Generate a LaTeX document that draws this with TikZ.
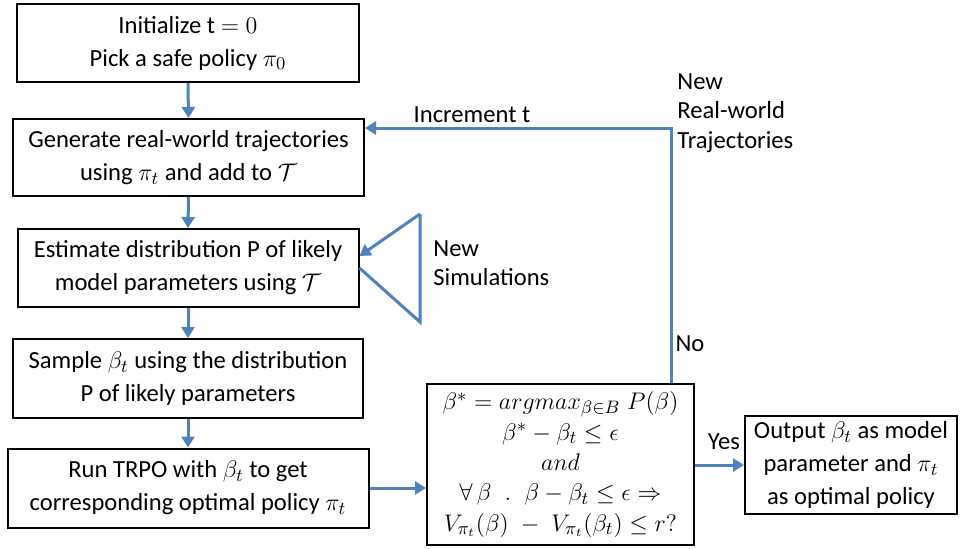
\documentclass[tikz,border=0pt]{standalone}
\usepackage{fontspec}
\setmainfont{Carlito}
\usetikzlibrary{arrows.meta}
\definecolor{flowblue}{RGB}{79,129,189}
\tikzset{
  stepbox/.style={draw=black, line width=1pt, align=center, inner sep=2pt,
    font=\fontsize{12.3}{16.5}\selectfont},
  flow/.style={draw=flowblue, line width=1.5pt, -{Triangle[length=5.5pt,width=6.5pt]}},
  plainflow/.style={draw=flowblue, line width=1.5pt},
  lbl/.style={font=\fontsize{12.3}{14.8}\selectfont, inner sep=0pt},
}
\begin{document}
\begin{tikzpicture}[x=0.5pt,y=-0.5pt]
\useasboundingbox (0,0) rectangle (960,548);

% left column of steps
\node[stepbox, minimum width=171pt, minimum height=39pt] (init) at (188,43)
  {Initialize t $=0$\\Pick a safe policy $\pi_0$};
\node[stepbox, minimum width=175.5pt, minimum height=38.5pt] (gen) at (188.5,157.5)
  {Generate real-world trajectories\\using $\pi_t$ and add to $\mathcal{T}$};
\node[stepbox, minimum width=170.5pt, minimum height=39pt] (est) at (188,268)
  {Estimate distribution P of likely\\model parameters using $\mathcal{T}$};
\node[stepbox, minimum width=175pt, minimum height=39.5pt] (samp) at (188,378.5)
  {Sample $\beta_t$ using the distribution\\P of likely parameters};
\node[stepbox, minimum width=180.5pt, minimum height=39.5pt] (trpo) at (188,488)
  {Run TRPO with $\beta_t$ to get\\corresponding optimal policy $\pi_t$};

% convergence test
\node[stepbox, minimum width=133.5pt, minimum height=80.5pt,
      font=\fontsize{12.6}{15.2}\selectfont] (test) at (560.5,464.5)
  {$\beta^{*}=argmax_{\beta\in B}\;P(\beta)$\\
   $\beta^{*}-\beta_t\leq\epsilon$\\
   $and$\\
   $\forall\,\beta\;\;.\;\;\beta-\beta_t\leq\epsilon\Rightarrow$\\
   $V_{\pi_t}(\beta)\;-\;V_{\pi_t}(\beta_t)\leq r?$};

% result
\node[stepbox, minimum width=106pt, minimum height=49pt] (out) at (851,465)
  {Output $\beta_t$ as model\\parameter and $\pi_t$\\as optimal policy};

% main flow
\draw[flow] (init.south) -- (gen.north);
\draw[flow] (gen.south) -- (est.north);
\draw[flow] (est.south) -- (samp.north);
\draw[flow] (samp.south) -- (trpo.north);
\draw[flow] (trpo.east) -- (trpo.east -| test.west);
\draw[flow] (out.west -| test.east) -- (out.west);

% simulation loop
\coordinate (simtop) at (420,214);
\coordinate (simbot) at (420,322);
\draw[flow] (simtop) -- ([yshift=6pt]est.east);
\draw[plainflow, line join=miter] (est.east) -- (simbot) -- (simtop);

% back edge to trajectory generation
\coordinate (turn) at (671,128);
\draw[flow] (test.north -| turn) -- (turn) -- (turn -| gen.east);

% labels
\node[lbl] (inc) at (472,115) {Increment t};
\node[lbl, anchor=west, align=left] (newreal) at (677,113)
  {New\\Real-world\\Trajectories};
\node[lbl, anchor=west, align=left] (newsim) at (433,263)
  {New\\Simulations};
\node[lbl] (no) at (690,344) {No};
\node[lbl] (yes) at (724,442) {Yes};
\end{tikzpicture}
\end{document}
